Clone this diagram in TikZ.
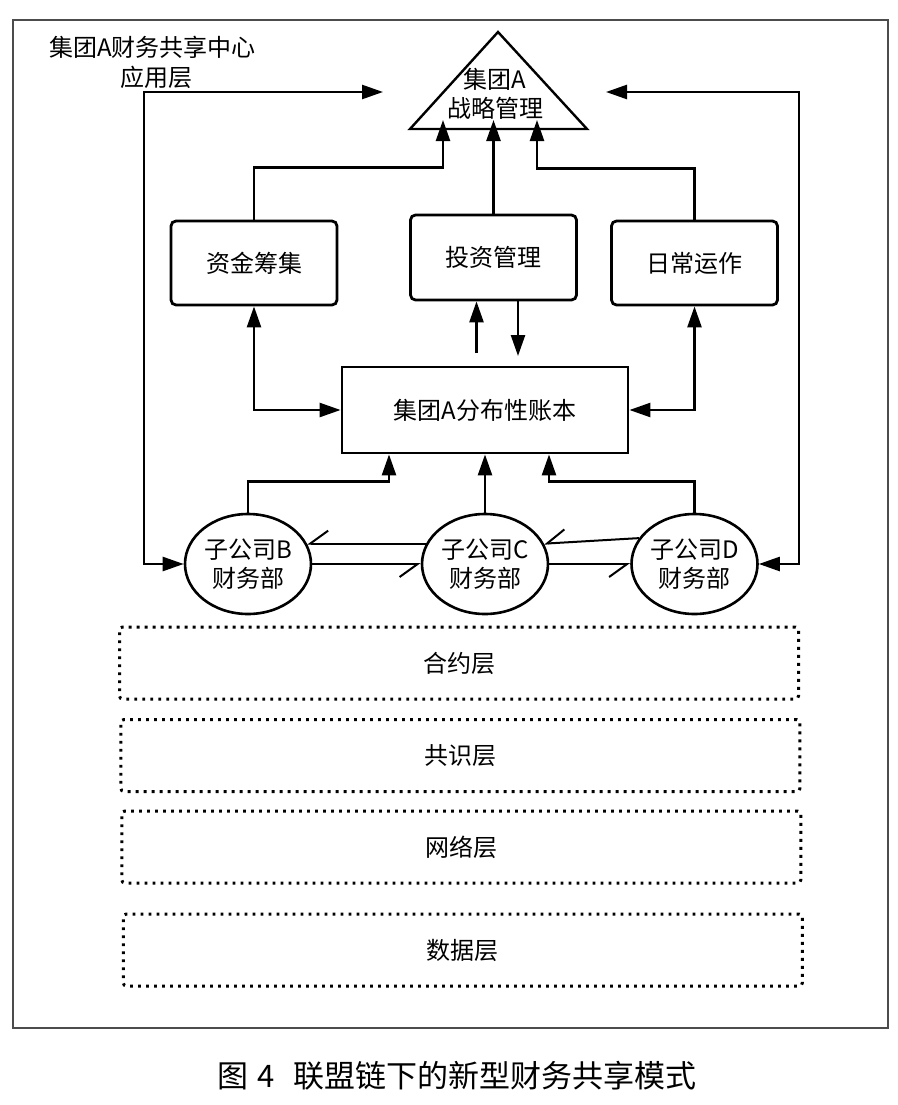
\documentclass[tikz,border=0pt]{standalone}
\usepackage{fontspec}
\setmainfont{Noto Sans CJK SC}
\usetikzlibrary{arrows.meta,shapes.geometric}
\begin{document}
\begin{tikzpicture}[x=1pt,y=-1pt,
  lw/.style={line width=2.5pt},
  tip/.tip={Triangle[length=21pt,width=14pt]},
  arr/.style={lw,-tip},
  darr/.style={lw,tip-tip},
  harp/.style={line width=2pt,-{Straight Barb[right,length=18pt,width=26pt]}},
  lbl/.style={font=\fontsize{24}{29}\selectfont,inner sep=0pt,align=center},
  rbox/.style={draw,line width=2.8pt,rounded corners=5pt,minimum width=166pt,minimum height=84pt,lbl},
  ell/.style={draw,ellipse,line width=2.6pt,minimum width=126pt,minimum height=100pt,lbl},
  dotbox/.style={draw,line width=3pt,dash pattern=on 2.8pt off 5.2pt,rounded corners=3pt,minimum width=679pt,minimum height=72pt,lbl},
  framestyle/.style={draw=black!70,line width=2.6pt}]
\useasboundingbox (0,0) rectangle (897,1105);
\draw[framestyle] (13,20) rectangle (888,1028);

% title label
\node[lbl,anchor=west] (title1) at (49,47) {集团A财务共享中心};
\node[lbl] (title2) at (156,77) {应用层};

% triangle
\coordinate (tl) at (410,129);
\coordinate (ta) at (498,32);
\coordinate (tr) at (587,129);
\draw[line width=2.4pt,line join=miter] (tl) -- (ta) -- (tr) -- cycle;
\node[lbl] (tri1) at (495,79) {集团A};
\node[lbl] (tri2) at (495,108) {战略管理};

% boxes
\node[rbox] (fund) at (254,263) {资金筹集};
\node[rbox,minimum height=85pt] (inv) at (493.5,257.5) {投资管理};
\node[rbox] (daily) at (694.5,263) {日常运作};
\node[rbox,rounded corners=0pt,minimum width=286pt,minimum height=86pt] (ledger) at (485,410) {集团A分布性账本};

% ellipses
\node[ell] (B) at (248,564) {子公司B\\财务部};
\node[ell] (C) at (485,564) {子公司C\\财务部};
\node[ell] (D) at (694.5,564) {子公司D\\财务部};

% arrows into triangle
\coordinate (tin1) at (443,120);
\coordinate (tin2) at (493.5,120);
\coordinate (tin3) at (537,120);
\draw[arr] (fund.north) -- ++(0,-52) -| (tin1);
\draw[arr] (inv.north) -- (tin2);
\draw[arr] (daily.north) -- ++(0,-51) -| (tin3);

% outer loops
\coordinate (ltop) at (383,92);
\coordinate (rtop) at (606,92);
\draw[darr] (ltop) -- (144,92) |- (B.west);
\draw[darr] (rtop) -- (799,92) |- (D.east);

% ledger <-> boxes
\draw[darr] (fund.south) |- (ledger.west);
\draw[darr] (daily.south) |- (ledger.east);
\coordinate (iu) at (476.5,353);
\coordinate (id) at (518,356);
\draw[arr] (iu) -- (iu |- inv.south);
\draw[arr] (id |- inv.south) -- (id);

% ellipses -> ledger
\draw[arr] (B.north) -- ++(0,-31) -| ([xshift=-96pt]ledger.south);
\draw[arr] (C.north) -- (ledger.south);
\draw[arr] (D.north) -- ++(0,-31) -| ([xshift=64pt]ledger.south);

% harpoons between ellipses
\draw[harp] (C.161) -- (B.19);
\draw[harp] (B.east) -- (C.west);
\draw[harp] (D.155) -- (C.19);
\draw[harp] (C.east) -- (D.west);

% layers
\node[dotbox] (l1) at (459,663) {合约层};
\node[dotbox] (l2) at (460.4,755.5) {共识层};
\node[dotbox] (l3) at (461.3,847) {网络层};
\node[dotbox] (l4) at (462.8,950) {数据层};

% caption
\node[inner sep=0pt,font=\fontsize{31}{36}\selectfont] (cap) at (457,1076) {图\hspace{9pt}4\hspace{18pt}联盟链下的新型财务共享模式};
\end{tikzpicture}
\end{document}
